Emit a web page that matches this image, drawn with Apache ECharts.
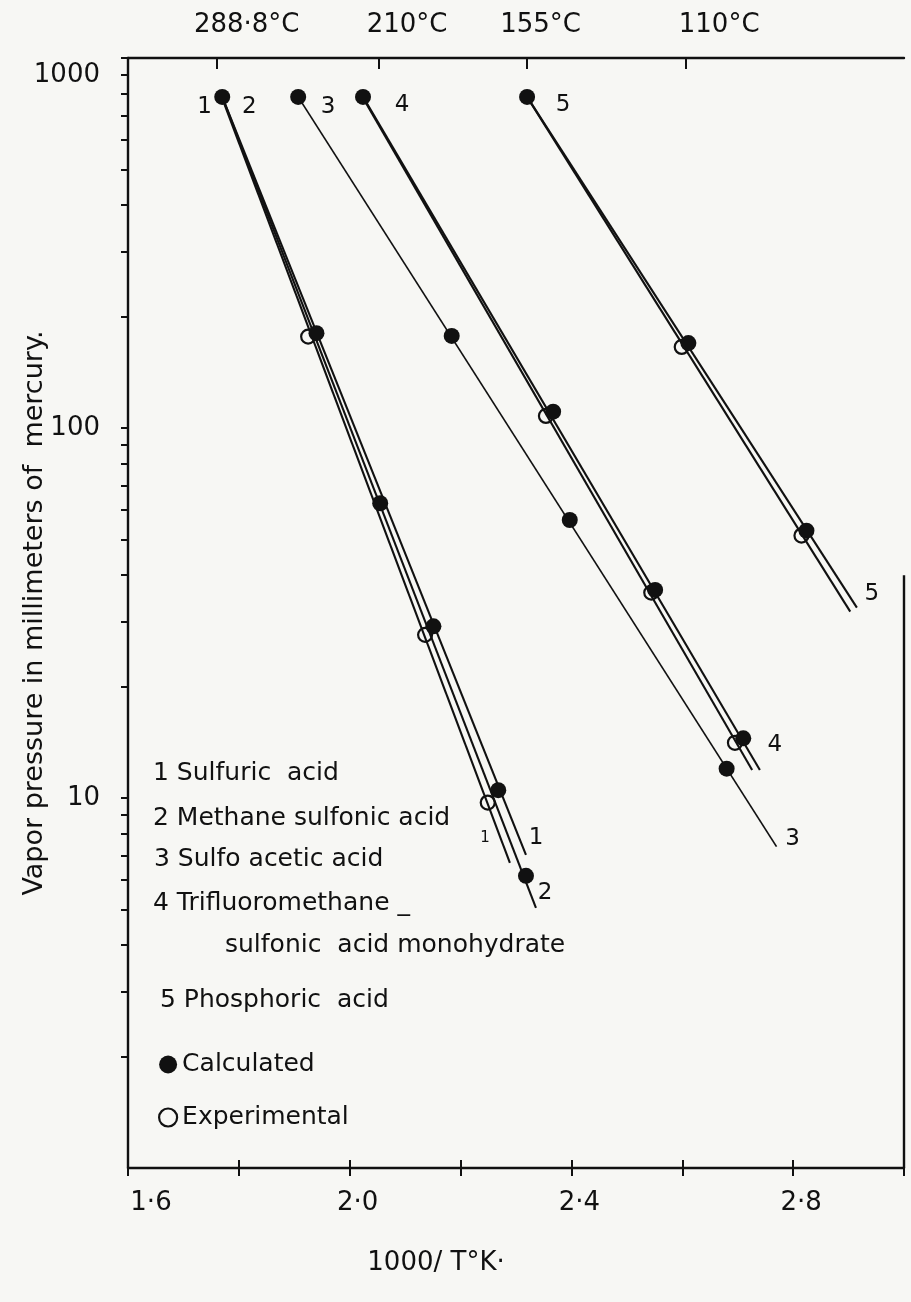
<!DOCTYPE html>
<html>
<head>
<meta charset="utf-8">
<script src="https://cdn.jsdelivr.net/npm/echarts@6/dist/echarts.min.js"></script>
<style>
  html, body { margin: 0; padding: 0; background: #f7f7f4; }
  #chart { width: 911px; height: 1302px; }
</style>
</head>
<body>
<div id="chart"></div>
<script>
// Vapor pressure (mm Hg, log scale) against 1000/T (K) for five acids.
const FONT = 'DejaVu Sans';
const INK = '#111111';

// Straight lines, [start, end] as [1000/T, mm Hg]
const sulfuricCalcLine   = [[1.770, 785], [2.318, 7.02]];
const sulfuricExpLine    = [[1.769, 785], [2.289, 6.68]];
const methaneLine        = [[1.770, 785], [2.336, 5.05]];
const sulfoaceticLine    = [[1.907, 785], [2.770, 7.39]];
const triflicCalcLine    = [[2.024, 785], [2.740, 11.9]];
const triflicExpLine     = [[2.023, 785], [2.726, 11.9]];
const phosphoricCalcLine = [[2.320, 785], [2.915, 32.7]];
const phosphoricExpLine  = [[2.320, 785], [2.903, 31.9]];

// Filled dots (calculated)
const calculatedPoints = [
  [1.770, 785], [1.940, 180.4], [2.055, 62.6], [2.151, 29.1], [2.268, 10.5], [2.318, 6.16],
  [1.907, 785], [2.184, 177.4], [2.397, 56.4], [2.680, 12.0],
  [2.024, 785], [2.367, 110.7], [2.551, 36.5], [2.710, 14.5],
  [2.320, 785], [2.611, 169.6], [2.824, 52.8]
];

// Open circles (experimental)
const experimentalPoints = [
  [1.925, 176.6], [2.136, 27.6], [2.249, 9.72],
  [2.354, 107.8], [2.544, 35.9], [2.695, 14.1],
  [2.599, 165.6], [2.815, 51.2]
];

// Axis ticks and labels
const yTickValues = [2, 3, 4, 5, 6, 7, 8, 9, 10, 20, 30, 40, 50, 60, 70, 80, 90,
                     100, 200, 300, 400, 500, 600, 700, 800, 900, 1000];
const yLabelValues = [10, 100, 1000];
const xLabelValues = [1.6, 2.0, 2.4, 2.8];
const topTickValues = [1.760, 2.053, 2.319, 2.607];
const topTickLabels = ['288·8°C', '210°C', '155°C', '110°C'];

// Key text
const keyLines = [
  '1 Sulfuric  acid',
  '2 Methane sulfonic acid',
  '3 Sulfo acetic acid',
  '4 Trifluoromethane _',
  'sulfonic  acid monohydrate',
  '5 Phosphoric  acid'
];

const X_MIN = 1.6, X_MAX = 3.0, Y_MIN = 1, Y_MAX = 1000;

const chart = echarts.init(document.getElementById('chart'), null, { renderer: 'canvas' });

function lineSeries(data, width) {
  return {
    type: 'line', data: data, symbol: 'none', silent: true, z: 2,
    lineStyle: { color: INK, width: width || 2.1, opacity: 1 }
  };
}

const keyX = [153, 153, 154, 153, 225, 160];
const keyY = [776, 821, 862, 906, 948, 1003];

const tag = (name, pt, offset, size) => ({
  name: name, value: pt,
  label: { offset: offset, fontSize: size || 23 }
});

const option = {
  backgroundColor: '#f7f7f4',
  animation: false,
  grid: { left: 128, right: 7, top: 58, bottom: 134, outerBoundsMode: 'none', containLabel: false },
  xAxis: [
    {
      type: 'value', position: 'bottom', min: X_MIN, max: X_MAX, interval: 0.2,
      name: '1000/ T°K·', nameLocation: 'middle', nameGap: 82, nameMoveOverlap: false,
      nameTextStyle: { fontFamily: FONT, fontSize: 26, color: INK, padding: [0, 160, 0, 0] },
      axisLine: { show: true, lineStyle: { color: INK, width: 2.4 } },
      axisTick: { show: true, inside: false, length: 8, lineStyle: { color: INK, width: 2 } },
      axisLabel: {
        customValues: xLabelValues, margin: 22, color: INK,
        fontFamily: FONT, fontSize: 26,
        formatter: v => {
          const s = v.toFixed(1).replace('.', '·');
          return Math.abs(v - X_MIN) < 1e-9 ? '{first|' + s + '}' : '{rest|' + s + '}';
        },
        rich: {
          first: { fontFamily: FONT, fontSize: 26, color: INK, padding: [0, 0, 0, 46] },
          rest: { fontFamily: FONT, fontSize: 26, color: INK, padding: [0, 0, 0, 16] }
        }
      },
      splitLine: { show: false }
    },
    {
      type: 'value', position: 'bottom', min: X_MIN, max: X_MAX, interval: 0.2,
      axisLine: { show: false },
      axisTick: { show: true, inside: true, length: 8, lineStyle: { color: INK, width: 2 } },
      axisLabel: { show: false },
      splitLine: { show: false }
    },
    {
      type: 'value', position: 'top', min: X_MIN, max: X_MAX,
      axisLine: { show: true, lineStyle: { color: INK, width: 2.4 } },
      axisTick: { show: true, inside: true, length: 11, customValues: topTickValues,
                  lineStyle: { color: INK, width: 2 } },
      axisLabel: {
        customValues: topTickValues, margin: 20, color: INK, fontFamily: FONT, fontSize: 26,
        formatter: v => {
          let i = 0, best = Infinity;
          topTickValues.forEach((t, k) => { const d = Math.abs(t - v); if (d < best) { best = d; i = k; } });
          return '{t' + i + '|' + topTickLabels[i] + '}';
        },
        rich: {
          t0: { fontFamily: FONT, fontSize: 26, color: INK, padding: [0, 0, 0, 60] },
          t1: { fontFamily: FONT, fontSize: 26, color: INK, padding: [0, 0, 0, 56] },
          t2: { fontFamily: FONT, fontSize: 26, color: INK, padding: [0, 0, 0, 28] },
          t3: { fontFamily: FONT, fontSize: 26, color: INK, padding: [0, 0, 0, 66] }
        }
      },
      splitLine: { show: false }
    }
  ],
  yAxis: {
    type: 'log', logBase: 10, min: Y_MIN, max: Y_MAX,
    name: 'Vapor pressure in millimeters of  mercury.', nameLocation: 'middle', nameGap: 80,
    nameRotate: 90, nameMoveOverlap: false,
    nameTextStyle: { fontFamily: FONT, fontSize: 27, color: INK },
    axisLine: { show: true, lineStyle: { color: INK, width: 2.4 } },
    axisTick: { show: true, inside: false, length: 7, customValues: yTickValues,
                lineStyle: { color: INK, width: 2 } },
    axisLabel: {
      customValues: yLabelValues, margin: 28, color: INK, fontFamily: FONT, fontSize: 26,
      formatter: v => (v >= 999 ? '{top|' + Math.round(v) + '}' : String(Math.round(v))),
      rich: { top: { fontFamily: FONT, fontSize: 26, color: INK, padding: [34, 0, 0, 0] } }
    },
    splitLine: { show: false }
  },
  legend: {
    orient: 'vertical', left: 153, top: 1047, itemGap: 28,
    itemWidth: 18, itemHeight: 18,
    textStyle: { fontFamily: FONT, fontSize: 25, color: INK },
    data: [
      { name: 'Calculated', icon: 'circle', itemStyle: { color: INK, opacity: 1 } },
      { name: 'Experimental', icon: 'circle', itemStyle: { color: 'rgba(0,0,0,0)', borderColor: INK, borderWidth: 2.2, opacity: 1 } }
    ],
    selectedMode: false
  },
  graphic: keyLines.map((t, i) => ({
    type: 'text', left: keyX[i], top: keyY[i] - 15,
    style: { text: t, font: '25px "' + FONT + '"', fill: INK }
  })),
  series: [
    Object.assign(lineSeries(sulfuricCalcLine), {
      markLine: {
        silent: true, symbol: 'none', label: { show: false },
        lineStyle: { color: INK, width: 2.4, type: 'solid', opacity: 1 },
        data: [[{ coord: [X_MAX, Y_MIN] }, { coord: [X_MAX, 40] }]]
      }
    }),
    lineSeries(sulfuricExpLine),
    lineSeries(methaneLine),
    lineSeries(sulfoaceticLine, 1.7),
    lineSeries(triflicCalcLine),
    lineSeries(triflicExpLine),
    lineSeries(phosphoricCalcLine),
    lineSeries(phosphoricExpLine),
    {
      name: 'Experimental', type: 'scatter', data: experimentalPoints, z: 3,
      symbol: 'circle', symbolSize: 14,
      itemStyle: { color: 'rgba(0,0,0,0)', borderColor: INK, borderWidth: 2.2, opacity: 1 }
    },
    {
      name: 'Calculated', type: 'scatter', data: calculatedPoints, z: 4,
      symbol: 'circle', symbolSize: 16,
      itemStyle: { color: INK, opacity: 1 }
    },
    {
      name: 'tags', type: 'scatter', silent: true, z: 5,
      symbolSize: 1, itemStyle: { color: 'rgba(0,0,0,0)', opacity: 1 },
      label: {
        show: true, position: 'inside', formatter: p => p.name,
        fontFamily: FONT, fontSize: 23, color: INK, opacity: 1
      },
      data: [
        tag('1', sulfuricExpLine[0], [-17, 10]),
        tag('2', methaneLine[0], [27, 10]),
        tag('3', sulfoaceticLine[0], [30, 10]),
        tag('4', triflicCalcLine[0], [39, 8]),
        tag('5', phosphoricCalcLine[0], [36, 8]),
        tag('1', sulfuricExpLine[1], [-25, -25], 15),
        tag('1', sulfuricCalcLine[1], [10, -17]),
        tag('2', methaneLine[1], [9, -15]),
        tag('3', sulfoaceticLine[1], [16, -8]),
        tag('4', triflicCalcLine[1], [15, -25]),
        tag('5', phosphoricCalcLine[1], [15, -14])
      ]
    }
  ]
};

chart.setOption(option);
</script>
</body>
</html>
